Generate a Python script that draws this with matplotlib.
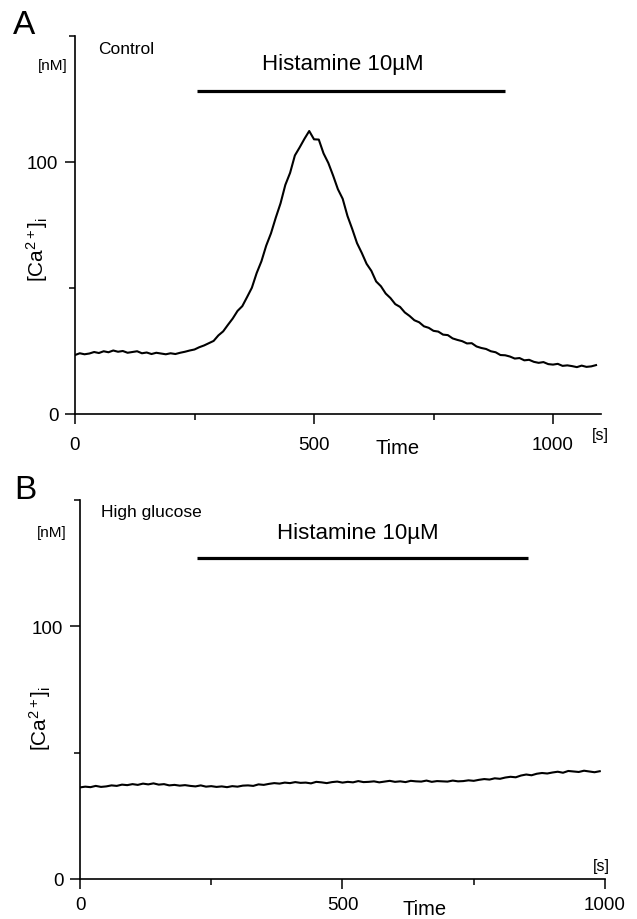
import numpy as np
import matplotlib
matplotlib.use("Agg")
import matplotlib.pyplot as plt

plt.rcParams['font.family'] = ['Liberation Sans', 'DejaVu Sans']
plt.rcParams['mathtext.fontset'] = 'custom'
plt.rcParams['mathtext.rm'] = 'Liberation Sans'
plt.rcParams['mathtext.it'] = 'Liberation Sans:italic'

# panel A (control): [Ca2+]i in nM, sampled every 10 s
time_a = np.arange(0, 1100, 10)
ca_a = [23.4, 24.1, 23.7, 24.0, 24.6, 24.2, 24.9, 24.5, 25.2, 24.7,
        25.0, 24.3, 24.6, 24.9, 24.1, 24.4, 23.8, 24.3, 24.0, 23.7,
        24.1, 23.8, 24.3, 24.7, 25.2, 25.6, 26.5, 27.2, 28.1, 29.0,
        31.2, 32.8, 35.4, 37.9, 40.9, 42.8, 46.4, 50.1, 55.9, 60.6,
        66.8, 71.7, 77.9, 83.6, 90.9, 95.7, 102.6, 105.8, 109.2, 112.3,
        109.0, 108.9, 103.4, 99.6, 94.6, 89.2, 85.4, 78.6, 73.4, 67.8,
        63.9, 59.6, 56.8, 52.6, 50.7, 47.8, 46.0, 43.6, 42.5, 40.3,
        38.9, 37.2, 36.4, 34.8, 34.2, 33.0, 32.7, 31.5, 31.3, 30.0,
        29.4, 28.9, 28.0, 28.1, 26.8, 26.2, 25.8, 24.9, 24.5, 23.4,
        23.3, 22.8, 22.0, 22.2, 21.3, 21.5, 20.7, 20.3, 20.6, 19.8,
        19.6, 19.9, 19.1, 19.3, 19.0, 18.6, 19.2, 18.7, 18.9, 19.4]

# panel B (high glucose)
time_b = np.arange(0, 1000, 10)
ca_b = [36.2, 36.5, 36.3, 36.8, 36.4, 36.6, 37.0, 36.8, 37.3, 37.1,
        37.5, 37.2, 37.7, 37.4, 37.8, 37.3, 37.5, 37.0, 37.2, 36.9,
        37.1, 36.8, 36.6, 37.0, 36.5, 36.7, 36.4, 36.6, 36.3, 36.7,
        36.5, 36.9, 37.0, 36.8, 37.4, 37.2, 37.6, 37.9, 37.7, 38.1,
        37.9, 38.3, 38.0, 38.1, 37.8, 38.4, 38.2, 37.9, 38.3, 38.5,
        38.1, 38.4, 38.2, 38.7, 38.3, 38.4, 38.6, 38.2, 38.5, 38.8,
        38.4, 38.6, 38.3, 38.8, 38.6, 38.5, 38.9, 38.4, 38.7, 38.6,
        38.5, 38.9, 38.6, 38.7, 39.0, 38.8, 39.2, 39.5, 39.3, 39.8,
        39.6, 40.1, 40.4, 40.2, 40.9, 41.3, 41.0, 41.6, 41.9, 41.7,
        42.1, 42.4, 42.0, 42.7, 42.5, 42.3, 42.8, 42.5, 42.2, 42.6]

# histamine application (start, end) and bar level
hist_a = [255, 900]
hist_b = [223, 853]
hist_level_a = 128
hist_level_b = 127

W, H = 637, 920


def px(x, y):
    return x / W, 1 - y / H


def style_axes(ax, xmax, xpad):
    for s in ['top', 'right']:
        ax.spines[s].set_visible(False)
    for s in ['left', 'bottom']:
        ax.spines[s].set_linewidth(1.2)
    ax.set_xlim(0, xmax)
    ax.set_ylim(0, 150)
    ax.set_xticks([0, 500, 1000])
    ax.set_xticks([250, 750], minor=True)
    ax.set_yticks([0, 100])
    ax.set_yticks([50, 150], minor=True)
    ax.tick_params(which='major', length=7, width=1.1, labelsize=13.5)
    ax.tick_params(which='minor', length=4, width=1.1)
    ax.tick_params(axis='x', which='major', pad=9 if xpad else 5)
    ax.tick_params(axis='y', which='major', pad=5)


fig = plt.figure(figsize=(6.37, 9.2), dpi=100)

axA = fig.add_axes([75 / W, 1 - 415 / H, 525.8 / W, 378 / H])
style_axes(axA, 1100, True)
axA.plot(time_a, ca_a, color='black', lw=1.5)
axA.plot(hist_a, [hist_level_a, hist_level_a], color='black', lw=2.3,
         solid_capstyle='butt', clip_on=False)
axA.text(560, 139, 'Histamine 10µM', ha='center', va='center', fontsize=16)

axB = fig.add_axes([80 / W, 1 - 880 / H, 525 / W, 379.5 / H])
style_axes(axB, 1000, False)
axB.plot(time_b, ca_b, color='black', lw=1.5)
axB.plot(hist_b, [hist_level_b, hist_level_b], color='black', lw=2.3,
         solid_capstyle='butt', clip_on=False)
axB.text(529, 137, 'Histamine 10µM', ha='center', va='center', fontsize=16)

# panel letters and labels
fig.text(*px(24, 25), 'A', fontsize=24, ha='center', va='center')
fig.text(*px(25, 491), 'B', fontsize=24, ha='center', va='center')
fig.text(*px(98, 49), 'Control', fontsize=12.5, ha='left', va='center')
fig.text(*px(101, 512), 'High glucose', fontsize=12.5, ha='left', va='center')
fig.text(*px(68, 66), '[nM]', fontsize=11, ha='right', va='center')
fig.text(*px(67, 533), '[nM]', fontsize=11, ha='right', va='center')
fig.text(*px(37, 249), r'[Ca$^{2+}$]$_{\rm i}$', fontsize=15, rotation=90,
         ha='center', va='center')
fig.text(*px(40, 718), r'[Ca$^{2+}$]$_{\rm i}$', fontsize=15, rotation=90,
         ha='center', va='center')
fig.text(*px(398, 449), 'Time', fontsize=14.5, ha='center', va='center')
fig.text(*px(425, 910), 'Time', fontsize=14.5, ha='center', va='center')
fig.text(*px(600, 436), '[s]', fontsize=11.5, ha='center', va='center')
fig.text(*px(601, 867), '[s]', fontsize=11.5, ha='center', va='center')

fig.savefig('out.png', dpi=100)
